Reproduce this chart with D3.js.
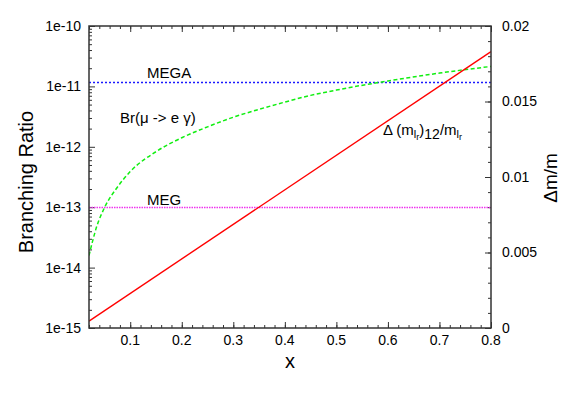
<!DOCTYPE html>
<html>
<head>
<meta charset="utf-8">
<title>Branching ratio</title>
<style>
  body { margin: 0; background: #fff; }
  svg text { font-family: "Liberation Sans", Arial, sans-serif; fill: #000; }
</style>
</head>
<body>
<script src="https://cdn.jsdelivr.net/npm/d3@7"></script>
<script>
// data
var xVals  = [0.02, 0.035, 0.05, 0.075, 0.1, 0.15, 0.2, 0.25, 0.3, 0.35, 0.4, 0.45, 0.5, 0.6, 0.7, 0.8];
var brVals = [1.58e-14, 4.79e-14, 9.8e-14, 2.14e-13, 3.89e-13, 8.3e-13, 1.41e-12, 2.14e-12, 3.09e-12, 4.17e-12, 5.5e-12, 7.1e-12, 8.7e-12, 1.23e-11, 1.66e-11, 2.14e-11];
var dmX    = [0.02, 0.8];
var dmVals = [0.00046, 0.0183];
var megaLimit = 1.2e-11;
var megLimit  = 1e-13;
var xTicks  = [0.1, 0.2, 0.3, 0.4, 0.5, 0.6, 0.7, 0.8];
var yTicks  = [1e-15, 1e-14, 1e-13, 1e-12, 1e-11, 1e-10];
var y2Ticks = [0, 0.005, 0.01, 0.015, 0.02];

var width = 567, height = 397;
var L = 89, R = 491, T = 26, B = 328;

var svg = d3.select('body').append('svg')
    .attr('width', width)
    .attr('height', height);

var x = d3.scaleLinear().domain([0.02, 0.8]).range([L, R]);
var y = d3.scaleLog().domain([1e-15, 1e-10]).range([B, T]);
var y2 = d3.scaleLinear().domain([0, 0.02]).range([B, T]);

svg.append('clipPath').attr('id', 'clip')
  .append('rect').attr('x', L).attr('y', T).attr('width', R - L).attr('height', B - T);

// minor tick values
var xMinor = d3.range(0.02, 0.8001, 0.02).map(function(d){ return +d.toFixed(2); });
var yMinor = [];
for (var e = -15; e < -10; e++) {
  for (var k = 2; k < 10; k++) yMinor.push(k * Math.pow(10, e));
}
var y2Minor = d3.range(0, 0.02001, 0.001);

var tickColor = '#333';
var fs = 14;

function ticksG(axis, vals, size, cls) {
  var g = svg.append('g').attr('class', cls);
  g.call(axis.tickValues(vals).tickSize(size).tickFormat(''));
  g.select('.domain').remove();
  g.selectAll('line').attr('stroke', tickColor).attr('stroke-width', 1);
  return g;
}

// bottom & top
ticksG(d3.axisTop(x), xMinor, 3, 'xb-min').attr('transform', 'translate(0,' + B + ')');
ticksG(d3.axisTop(x), xTicks, 6, 'xb-maj').attr('transform', 'translate(0,' + B + ')');
ticksG(d3.axisBottom(x), xMinor, 3, 'xt-min').attr('transform', 'translate(0,' + T + ')');
ticksG(d3.axisBottom(x), xTicks, 6, 'xt-maj').attr('transform', 'translate(0,' + T + ')');
// left log
ticksG(d3.axisRight(y), yMinor, 3, 'yl-min').attr('transform', 'translate(' + L + ',0)');
ticksG(d3.axisRight(y), yTicks, 6, 'yl-maj').attr('transform', 'translate(' + L + ',0)');
// right linear
ticksG(d3.axisLeft(y2), y2Minor, 3, 'yr-min').attr('transform', 'translate(' + R + ',0)');
ticksG(d3.axisLeft(y2), y2Ticks, 6, 'yr-maj').attr('transform', 'translate(' + R + ',0)');

// tick labels
svg.append('g').selectAll('text').data(xTicks).enter().append('text')
  .attr('x', function(d){ return x(d); })
  .attr('y', B + 17)
  .attr('text-anchor', 'middle')
  .attr('font-size', fs)
  .text(function(d){ return d3.format('.1f')(d); });

svg.append('g').selectAll('text').data(yTicks).enter().append('text')
  .attr('x', L - 8)
  .attr('y', function(d){ return y(d); })
  .attr('dy', '0.35em')
  .attr('text-anchor', 'end')
  .attr('font-size', fs)
  .text(function(d){ return '1e' + Math.round(Math.log10(d)); });

svg.append('g').selectAll('text').data(y2Ticks).enter().append('text')
  .attr('x', R + 11)
  .attr('y', function(d){ return y2(d); })
  .attr('dy', '0.35em')
  .attr('text-anchor', 'start')
  .attr('font-size', fs)
  .text(function(d){ return d === 0 ? '0' : String(d); });

// lines
var plot = svg.append('g').attr('clip-path', 'url(#clip)');

plot.append('line')
  .attr('x1', L).attr('x2', R)
  .attr('y1', Math.round(y(megaLimit)) + 0.5).attr('y2', Math.round(y(megaLimit)) + 0.5)
  .attr('stroke', '#1a1aff').attr('stroke-width', 1.6)
  .attr('stroke-dasharray', '2,2');

plot.append('line')
  .attr('x1', L).attr('x2', R)
  .attr('y1', Math.round(y(megLimit)) + 0.5).attr('y2', Math.round(y(megLimit)) + 0.5)
  .attr('stroke', '#ee33ee').attr('stroke-width', 1.6)
  .attr('stroke-dasharray', '1.5,1');

var brLine = d3.line()
  .x(function(d, i){ return x(xVals[i]); })
  .y(function(d){ return y(d); })
  .curve(d3.curveMonotoneX);

plot.append('path')
  .attr('d', brLine(brVals))
  .attr('fill', 'none')
  .attr('stroke', '#11ee11').attr('stroke-width', 1.5)
  .attr('stroke-dasharray', '4,2.5');

var dmLine = d3.line()
  .x(function(d, i){ return x(dmX[i]); })
  .y(function(d){ return y2(d); });

plot.append('path')
  .attr('d', dmLine(dmVals))
  .attr('fill', 'none')
  .attr('stroke', '#ff0000').attr('stroke-width', 1.4);

// frame
svg.append('rect')
  .attr('x', L).attr('y', T).attr('width', R - L).attr('height', B - T)
  .attr('fill', 'none').attr('stroke', tickColor).attr('stroke-width', 1.5);

// axis titles
svg.append('text')
  .attr('transform', 'translate(33,182) rotate(-90)')
  .attr('text-anchor', 'middle')
  .attr('font-size', 20)
  .text('Branching Ratio');

svg.append('text')
  .attr('transform', 'translate(557,178) rotate(-90)')
  .attr('text-anchor', 'middle')
  .attr('font-size', 19)
  .text('Δm/m');

svg.append('text')
  .attr('x', 290).attr('y', 368)
  .attr('text-anchor', 'middle')
  .attr('font-size', 20)
  .text('x');

// annotations
var afs = 15;
svg.append('text').attr('x', 147).attr('y', 78).attr('font-size', afs).text('MEGA');
svg.append('text').attr('x', 147).attr('y', 205).attr('font-size', afs).text('MEG');
svg.append('text').attr('x', 120).attr('y', 123).attr('font-size', afs).text('Br(μ -> e γ)');

var dm = svg.append('text').attr('x', 383).attr('y', 135).attr('font-size', afs);
dm.append('tspan').text('Δ (m');
dm.append('tspan').attr('font-size', 11).attr('dy', 3).text('l');
dm.append('tspan').attr('font-size', 9).attr('dy', 2).text('r');
dm.append('tspan').attr('dy', -5).text(')');
dm.append('tspan').attr('font-size', 14).attr('dy', 4).text('12');
dm.append('tspan').attr('dy', -4).text('/m');
dm.append('tspan').attr('font-size', 11).attr('dy', 3).text('l');
dm.append('tspan').attr('font-size', 9).attr('dy', 2).text('r');
</script>
</body>
</html>
